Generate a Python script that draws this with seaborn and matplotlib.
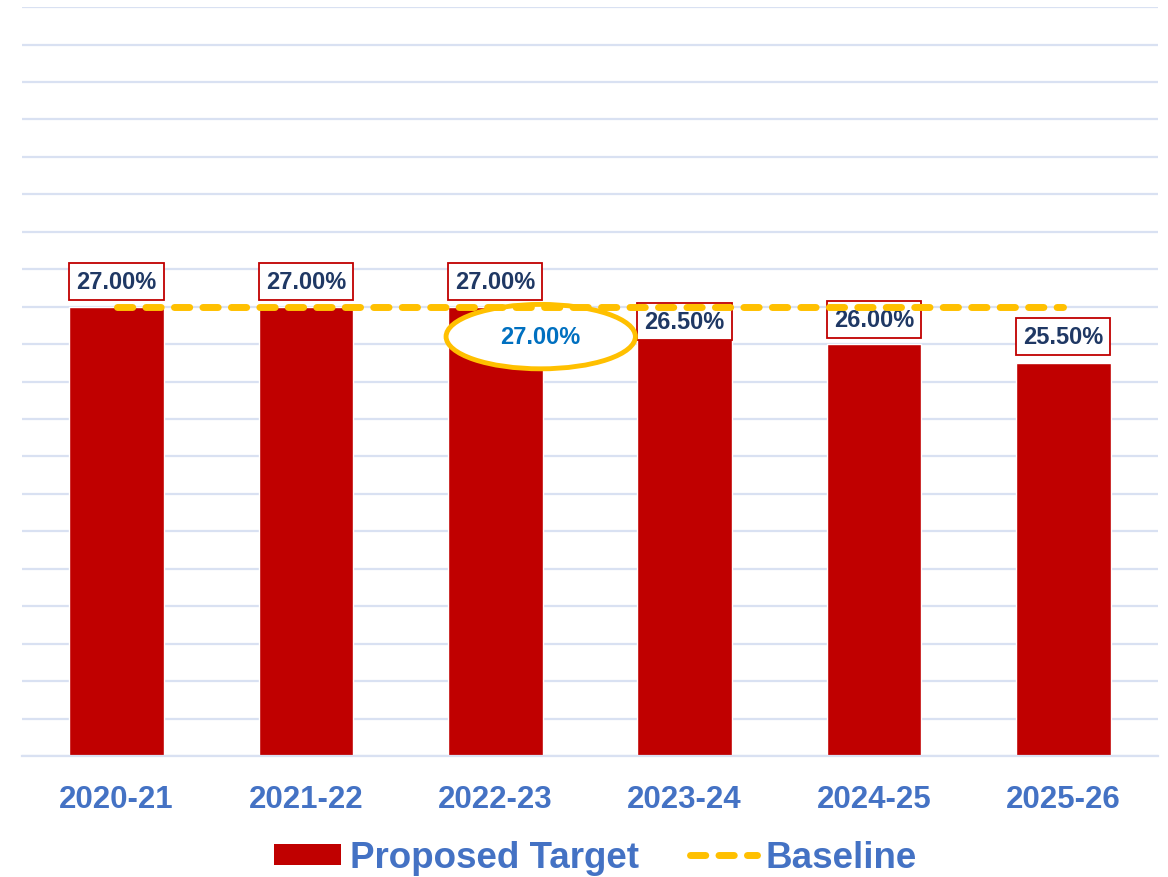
import numpy as np
import matplotlib
matplotlib.use("Agg")
import matplotlib.pyplot as plt
from matplotlib.patches import Ellipse, Patch
from matplotlib.lines import Line2D
import seaborn as sns

sns.set_style("white")
plt.rcParams['font.family'] = ['Liberation Sans', 'DejaVu Sans']

years = ["2020-21", "2021-22", "2022-23", "2023-24", "2024-25", "2025-26"]
target = [27.0, 27.0, 27.0, 26.5, 26.0, 25.5]
baseline = [27.0, 27.0, 27.0, 27.0, 27.0, 27.0]
baseline_note = "27.00%"

bar_red = "#C00000"
gold = "#FFC000"
blue = "#4472C4"
navy = "#1F3864"

fig = plt.figure(figsize=(11.68, 8.78), dpi=100)
ax = fig.add_axes([0.0188, 0.1378, 0.9726, 0.853])

sns.barplot(x=years, y=target, color=bar_red, saturation=1, width=0.5, ax=ax, zorder=2)

xs = np.arange(len(years))
ax.plot(xs, baseline, color=gold, lw=5, linestyle=(0, (2.2, 1.9)),
        dash_capstyle='round', zorder=8)

# data labels with boxes
label_offsets = [18, 18, 18, 3, 18, 19]
for i, v in enumerate(target):
    ax.annotate(f"{v:.2f}%", (i, v), xytext=(0, label_offsets[i]),
                textcoords="offset points", ha="center", va="center",
                fontsize=17, fontweight="bold", color=navy, zorder=5,
                bbox=dict(boxstyle="square,pad=0.3", fc="white", ec=bar_red, lw=1.3))

# highlighted baseline value
ax.add_patch(Ellipse((2.24, 26.2), 1.0, 1.72, fc="white", ec=gold, lw=3.5, zorder=6))
ax.text(2.24, 26.2, baseline_note, ha="center", va="center", fontsize=17,
        fontweight="bold", color="#0070C0", zorder=7)

ax.set_ylim(15, 35)
ax.set_xlim(-0.5, len(years) - 0.5)
ax.set_yticks(np.arange(15, 36, 1))
ax.set_yticklabels([])
ax.yaxis.grid(True, color="#D9E1F2", lw=1.6, zorder=0)
ax.set_axisbelow(True)
ax.tick_params(axis="both", length=0)
ax.tick_params(axis="x", pad=20)
for lbl in ax.get_xticklabels():
    lbl.set_fontsize(22.5)
    lbl.set_fontweight("bold")
    lbl.set_color(blue)
for s in ["top", "left", "right"]:
    ax.spines[s].set_visible(False)
ax.spines["bottom"].set_color("#D9E1F2")
ax.spines["bottom"].set_linewidth(1.6)
ax.set_xlabel("")
ax.set_ylabel("")

handles = [Patch(facecolor=bar_red, edgecolor="none"),
           Line2D([0], [0], color=gold, lw=5, linestyle=(0, (2.2, 1.9)), dash_capstyle='round')]
leg = fig.legend(handles, ["Proposed Target", "Baseline"], loc="center",
                 bbox_to_anchor=(0.51, 0.022), ncol=2, frameon=False,
                 prop={"size": 26.5, "weight": "bold"}, handlelength=1.8,
                 handleheight=0.5, handletextpad=0.25, columnspacing=1.4)
for t in leg.get_texts():
    t.set_color(blue)

fig.savefig("out.png", dpi=100)
